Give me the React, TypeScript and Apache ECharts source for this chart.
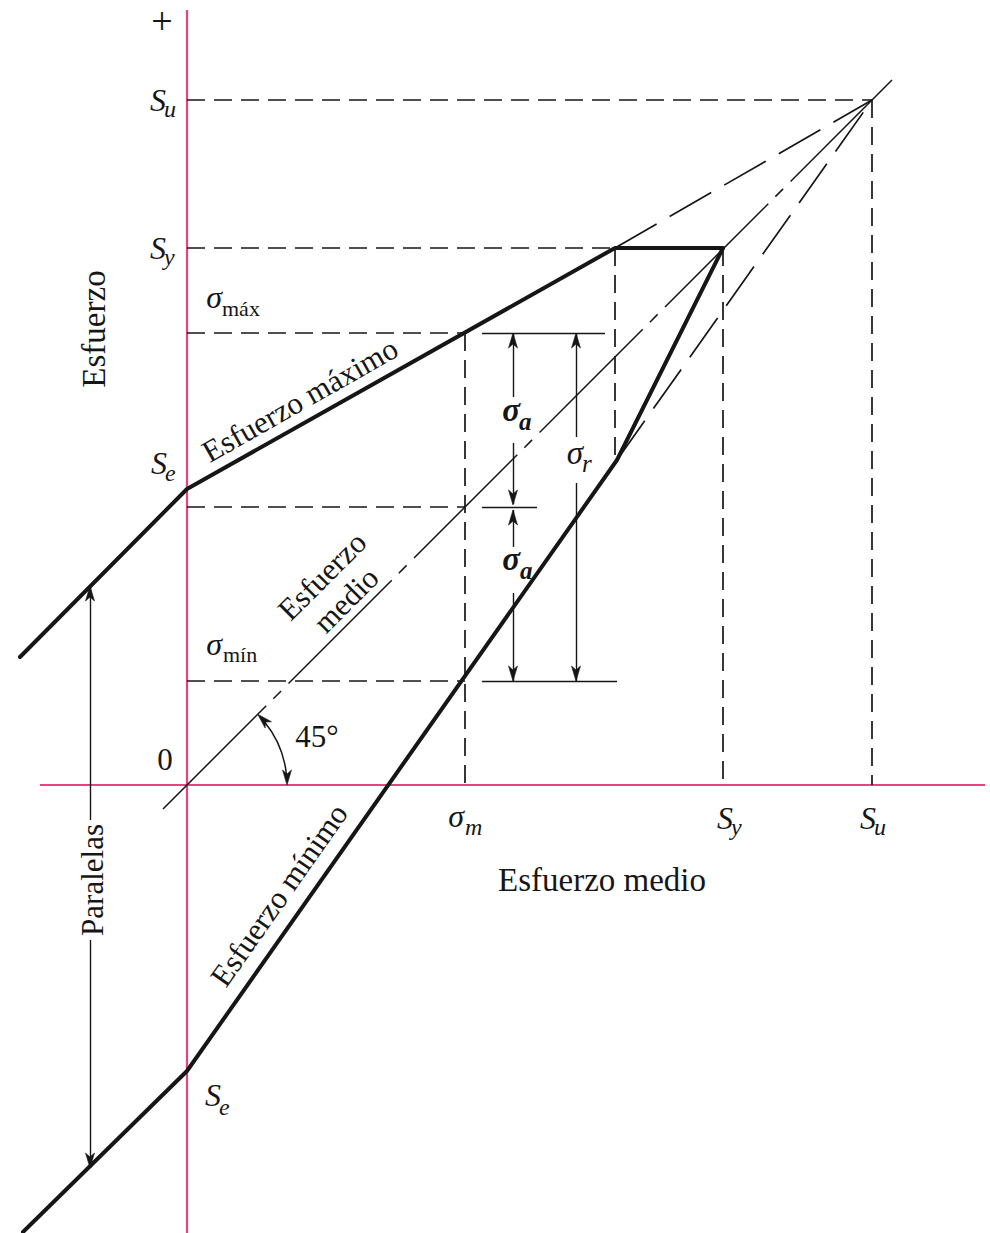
import { useEffect, useRef } from 'react';
import * as echarts from 'echarts';

// Strength levels (same stress units on both axes)
const su = 685;
const sy = 537;
const seUpper = 296;
const seLower = -286;

// Operating point: mean, maximum and minimum stress
const sigmaM = 278;
const sigmaMax = 452;
const sigmaMin = 104;

// Envelope corners
const maxStressLine = [[-167, 128], [0, seUpper], [428, sy], [536, sy]];
const minStressLine = [[-164, -447], [0, seLower], [430, 325], [536, sy]];
const meanStressLine = [[-24, -24], [705, 705]];

// Goodman lines continued up to the ultimate strength
const goodmanExtensions = [
  [[428, sy], [su, su]],
  [[430, 325], [su, su]],
];

// Construction lines back to the axes
const guideLines = [
  [[0, su], [su, su]],
  [[su, su], [su, 0]],
  [[0, sy], [428, sy]],
  [[536, sy], [536, 0]],
  [[428, sy], [428, 325]],
  [[0, sigmaMax], [sigmaM, sigmaMax]],
  [[sigmaM, sigmaMax], [sigmaM, 0]],
  [[0, sigmaM], [sigmaM, sigmaM]],
  [[0, sigmaMin], [sigmaM, sigmaMin]],
];

// Extension lines for the dimension arrows
const extensionLines = [
  [[295, sigmaMax], [418, sigmaMax]],
  [[295, sigmaM], [350, sigmaM]],
  [[295, sigmaMin], [430, sigmaMin]],
];

// Dimension arrow shafts (broken where the labels sit)
const arrowShafts = [
  [[326, sigmaMax], [326, 388]],
  [[326, 342], [326, 281]],
  [[326, 275], [326, 238]],
  [[326, 192], [326, sigmaMin]],
  [[389, sigmaMax], [389, 348]],
  [[389, 302], [389, sigmaMin]],
  [[-97, 199], [-97, -35]],
  [[-97, -155], [-97, -383]],
];

// Arrow tips: x, y, direction (1 = up, -1 = down)
const arrowTips = [
  [326, sigmaMax, 1],
  [326, 280, -1],
  [326, 275, 1],
  [326, sigmaMin, -1],
  [389, sigmaMax, 1],
  [389, sigmaMin, -1],
  [-97, 199, 1],
  [-97, -383, -1],
];

// Angle mark between the mean-stress line and the abscissa
const angleMark = [[0, 0, 100]];

const FONT = '"Liberation Serif", "Times New Roman", serif';
const INK = '#161616';
const PINK = '#e8427f';

type Label = {
  at: number[];
  text: string;
  size: number;
  italic?: boolean;
  bold?: boolean;
  rot?: number;
  lineHeight?: number;
  sub?: string;
  subSize?: number;
  subItalic?: boolean;
  dx?: number;
  dy?: number;
};

const LABELS: Label[] = [
  { at: [-25, 764], text: '+', size: 38 },
  { at: [-21, su], text: 'S', sub: 'u', size: 32, subSize: 24, dx: -2, dy: 9 },
  { at: [-21, sy], text: 'S', sub: 'y', size: 32, subSize: 24, dx: -2, dy: 9 },
  { at: [-20, seUpper + 26], text: 'S', sub: 'e', size: 32, subSize: 24, dx: -2, dy: 10 },
  { at: [35, sigmaMax + 36], text: 'σ', sub: 'máx', size: 32, subSize: 22, subItalic: false, dx: 0, dy: 11 },
  { at: [35, sigmaMin + 37], text: 'σ', sub: 'mín', size: 32, subSize: 22, subItalic: false, dx: 1, dy: 10 },
  { at: [-22, 26], text: '0', size: 31 },
  { at: [34, seLower - 24], text: 'S', sub: 'e', size: 32, subSize: 24, dx: -2, dy: 12 },
  { at: [sigmaM - 1, -31], text: 'σ', sub: 'm', size: 32, subSize: 24, dx: 1, dy: 11 },
  { at: [sy + 9, -33], text: 'S', sub: 'y', size: 32, subSize: 24, dx: -2, dy: 9 },
  { at: [su + 4, -33], text: 'S', sub: 'u', size: 32, subSize: 24, dx: -2, dy: 9 },
  { at: [333, 375], text: 'σ', sub: 'a', size: 33, subSize: 25, bold: true, dx: -1, dy: 11 },
  { at: [333, 226], text: 'σ', sub: 'a', size: 33, subSize: 25, bold: true, dx: 0, dy: 11 },
  { at: [396, 332], text: 'σ', sub: 'r', size: 33, subSize: 25, dx: -1, dy: 10 },
  { at: [-93, 456], text: 'Esfuerzo', size: 33, rot: 90 },
  { at: [415, -95], text: 'Esfuerzo medio', size: 33 },
  { at: [113, 385], text: 'Esfuerzo máximo', size: 31, rot: 29.6 },
  { at: [147, 197], text: 'Esfuerzo\nmedio', size: 31, rot: 45, lineHeight: 34 },
  { at: [92, -110], text: 'Esfuerzo mínimo', size: 31, rot: 55 },
  { at: [-95, -95], text: 'Paralelas', size: 31, rot: 90 },
  { at: [130, 49], text: '45°', size: 31 },
];

function arrowHead(tip: number[], angle: number) {
  const L = 15;
  const W = 4.5;
  const N = 11;
  const c = Math.cos(angle);
  const s = Math.sin(angle);
  const pt = (u: number, v: number) => [tip[0] + u * c - v * s, tip[1] + u * s + v * c];
  return [pt(0, 0), pt(-L, W), pt(-N, 0), pt(-L, -W)];
}

function segmentSeries(data: number[][][], width: number, type: any) {
  return {
    type: 'lines',
    coordinateSystem: 'cartesian2d',
    silent: true,
    data: data.map((coords) => ({ coords })),
    lineStyle: { color: INK, width, type, opacity: 1, cap: 'butt' },
  };
}

function buildOption() {
  return {
    animation: false,
    backgroundColor: '#ffffff',
    grid: { left: 0, right: 0, top: 0, bottom: 0, containLabel: false },
    xAxis: { type: 'value', min: -187, max: 803, show: false },
    yAxis: { type: 'value', min: -448, max: 785, show: false },
    series: [
      // axes
      {
        type: 'lines',
        coordinateSystem: 'cartesian2d',
        silent: true,
        data: [
          { coords: [[0, -448], [0, 775]] },
          { coords: [[-147, 0], [798, 0]] },
        ],
        lineStyle: { color: PINK, width: 2.2, opacity: 1 },
      },
      segmentSeries(guideLines, 1.7, [18, 9]),
      segmentSeries(goodmanExtensions, 1.7, [48, 15]),
      segmentSeries(extensionLines, 1.4, 'solid'),
      segmentSeries(arrowShafts, 1.4, 'solid'),
      {
        type: 'line',
        data: meanStressLine,
        showSymbol: false,
        symbol: 'none',
        silent: true,
        lineStyle: { color: INK, width: 1.5, type: [146, 10, 11, 10.5], dashOffset: 0 },
      },
      {
        type: 'line',
        data: maxStressLine,
        showSymbol: false,
        symbol: 'none',
        silent: true,
        lineStyle: { color: INK, width: 4, join: 'round', cap: 'round' },
      },
      {
        type: 'line',
        data: minStressLine,
        showSymbol: false,
        symbol: 'none',
        silent: true,
        lineStyle: { color: INK, width: 4, join: 'round', cap: 'round' },
      },
      // arrowheads
      {
        type: 'custom',
        clip: false,
        silent: true,
        encode: { x: 0, y: 1 },
        data: arrowTips,
        renderItem: (_p: any, api: any) => {
          const tip = api.coord([api.value(0), api.value(1)]);
          const ang = api.value(2) > 0 ? -Math.PI / 2 : Math.PI / 2;
          return {
            type: 'polygon',
            shape: { points: arrowHead(tip, ang) },
            style: { fill: INK, stroke: INK, lineWidth: 0.6 },
          };
        },
      },
      // 45° arc with arrowheads
      {
        type: 'custom',
        clip: false,
        silent: true,
        encode: { x: 0, y: 1 },
        data: angleMark,
        renderItem: (_p: any, api: any) => {
          const c = api.coord([api.value(0), api.value(1)]);
          const r = api.size([api.value(2), 0])[0];
          const t = Math.PI / 4;
          const endA = [c[0] + r * Math.cos(t), c[1] - r * Math.sin(t)];
          const endB = [c[0] + r, c[1]];
          return {
            type: 'group',
            children: [
              {
                type: 'arc',
                shape: { cx: c[0], cy: c[1], r, startAngle: -t + 0.1, endAngle: -0.1, clockwise: true },
                style: { stroke: INK, lineWidth: 1.5, fill: null },
              },
              {
                type: 'polygon',
                shape: { points: arrowHead(endA, Math.atan2(-Math.cos(t), -Math.sin(t))) },
                style: { fill: INK, stroke: INK, lineWidth: 0.6 },
              },
              {
                type: 'polygon',
                shape: { points: arrowHead(endB, Math.PI / 2) },
                style: { fill: INK, stroke: INK, lineWidth: 0.6 },
              },
            ],
          };
        },
      },
      // texts
      {
        type: 'custom',
        clip: false,
        silent: true,
        encode: { x: 0, y: 1 },
        data: LABELS.map((l) => l.at),
        renderItem: (params: any, api: any) => {
          const spec = LABELS[params.dataIndex];
          const p = api.coord([api.value(0), api.value(1)]);
          if (spec.sub) {
            return {
              type: 'group',
              children: [
                {
                  type: 'text',
                  x: p[0],
                  y: p[1],
                  style: {
                    text: spec.text,
                    fill: INK,
                    fontFamily: FONT,
                    fontSize: spec.size,
                    fontStyle: 'italic',
                    fontWeight: spec.bold ? 'bold' : 'normal',
                    align: 'right',
                    verticalAlign: 'middle',
                  },
                },
                {
                  type: 'text',
                  x: p[0] + (spec.dx || 0),
                  y: p[1] + (spec.dy || 0),
                  style: {
                    text: spec.sub,
                    fill: INK,
                    fontFamily: FONT,
                    fontSize: spec.subSize,
                    fontStyle: spec.subItalic === false ? 'normal' : 'italic',
                    fontWeight: spec.bold ? 'bold' : 'normal',
                    align: 'left',
                    verticalAlign: 'middle',
                  },
                },
              ],
            };
          }
          return {
            type: 'text',
            x: p[0],
            y: p[1],
            rotation: ((spec.rot || 0) * Math.PI) / 180,
            style: {
              text: spec.text,
              fill: INK,
              fontFamily: FONT,
              fontSize: spec.size,
              fontStyle: spec.italic ? 'italic' : 'normal',
              lineHeight: spec.lineHeight,
              align: 'center',
              verticalAlign: 'middle',
            },
          };
        },
      },
    ],
  };
}

export default function App() {
  const ref = useRef<HTMLDivElement>(null);
  useEffect(() => {
    const chart = echarts.init(ref.current!, null, { renderer: 'svg' });
    chart.setOption(buildOption() as any);
    return () => chart.dispose();
  }, []);
  return (
    <div
      ref={ref}
      style={{ position: 'absolute', left: 0, top: 0, width: 990, height: 1233, background: '#fff' }}
    />
  );
}
